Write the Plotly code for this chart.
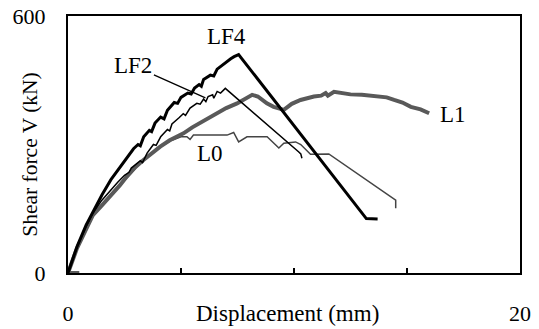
import plotly.graph_objects as go

# ---- data (displacement mm, shear force kN) ----
lf4_d = [0, 0.4, 0.8, 1.1, 1.5, 1.9, 2.3, 2.6, 2.9, 3.1, 3.2, 3.35, 3.6, 3.7, 3.85, 4.1, 4.25, 4.4,
         4.7, 4.85, 5.0, 5.3, 5.45, 5.6, 5.8, 5.9, 6.0, 6.3, 6.45, 6.6, 6.8, 7.0, 7.2, 7.35, 7.55,
         13.2, 13.7]
lf4_v = [0, 62, 112, 143, 182, 218, 248, 270, 290, 300, 297, 318, 333, 330, 350, 364, 360, 380,
         398, 396, 410, 420, 418, 432, 440, 436, 452, 462, 460, 476, 484, 494, 500, 505, 510,
         127, 126]

lf2_d = [0, 0.4, 0.8, 1.1, 1.5, 1.9, 2.2, 2.5, 2.7, 2.8, 3.05, 3.2, 3.3, 3.5, 3.78, 3.9, 4.1, 4.4,
         4.5, 4.6, 4.9, 5.1, 5.2, 5.4, 5.7, 5.85, 6.0, 6.1, 6.2, 6.4, 6.45, 6.6, 6.75, 6.96,
         10.2, 10.3, 10.35]
lf2_v = [0, 60, 108, 140, 170, 195, 212, 228, 235, 245, 256, 262, 258, 280, 300, 298, 318, 335,
         332, 348, 362, 372, 368, 385, 396, 394, 406, 400, 412, 416, 408, 424, 420, 431,
         283, 278, 268]

l1_d = [0.5, 0, 0.4, 0.8, 1.1, 1.5, 1.9, 2.3, 2.6, 3.0, 3.34, 3.7, 4.08, 4.5, 5.11, 5.5, 5.85, 6.2,
        6.59, 7.0, 7.48, 7.8, 8.15, 8.4, 8.8, 9.1, 9.55, 9.9, 10.29, 10.88, 11.2, 11.4, 11.5, 11.77,
        12.5, 13.0, 13.69, 14.1, 14.43, 14.8, 15.17, 15.6, 15.98]
l1_v = [0, 0, 58, 105, 135, 158, 180, 205, 225, 248, 264, 280, 295, 310, 326, 340, 350, 362,
        373, 385, 396, 405, 416, 412, 396, 388, 381, 395, 404, 412, 414, 420, 414, 423,
        417, 416, 412, 410, 404, 398, 388, 382, 373]

l0_d = [0, 0.4, 0.8, 1.1, 1.5, 1.9, 2.3, 2.6, 3.0, 3.4, 3.8, 4.2, 4.6, 5.0, 5.26, 5.4, 5.55, 5.7,
        6.5, 7.04, 7.33, 7.55, 7.92, 8.81, 9.33, 9.55, 10.07, 10.3, 10.73, 11.54, 14.5, 14.5]
l0_v = [0, 58, 103, 132, 157, 180, 203, 222, 245, 265, 283, 298, 310, 318, 318, 312, 322, 322,
        322, 322, 328, 306, 318, 318, 292, 303, 306, 300, 277, 278, 170, 151]

x_ticks = [0, 5, 10, 15, 20]
x_ticktext = ["0", "", "", "", "20"]
y_ticks = [0, 600]
y_ticktext = ["0", "600"]

FONT = "Times New Roman, Liberation Serif, serif"
FS = 22
LFS = 23

fig = go.Figure()
fig.add_trace(go.Scatter(x=l0_d, y=l0_v, mode="lines", name="L0",
                         line=dict(color="#444444", width=1.5)))
fig.add_trace(go.Scatter(x=l1_d, y=l1_v, mode="lines", name="L1",
                         line=dict(color="#595959", width=4)))
fig.add_trace(go.Scatter(x=lf2_d, y=lf2_v, mode="lines", name="LF2",
                         line=dict(color="#000000", width=1.5)))
fig.add_trace(go.Scatter(x=lf4_d, y=lf4_v, mode="lines", name="LF4",
                         line=dict(color="#000000", width=3)))

fig.update_layout(
    width=539, height=329,
    margin=dict(l=68, r=19, t=16, b=56, autoexpand=False),
    paper_bgcolor="white", plot_bgcolor="white",
    showlegend=False,
    font=dict(family=FONT, size=FS, color="black"),
    xaxis=dict(range=[0, 20], tickvals=x_ticks, ticktext=x_ticktext,
               tickfont=dict(family=FONT, size=FS, color="black"),
               ticks="inside", ticklen=5, tickwidth=1.5, tickcolor="black",
               showline=True, linecolor="black", linewidth=2, mirror=True,
               showgrid=False, zeroline=False, ticklabelstandoff=20, automargin=False),
    yaxis=dict(range=[0, 600], tickvals=y_ticks, ticktext=y_ticktext,
               tickfont=dict(family=FONT, size=FS, color="black"),
               ticks="", showline=True, linecolor="black", linewidth=2, mirror=True,
               showgrid=False, zeroline=False, ticklabelstandoff=16, automargin=False),
    annotations=[
        dict(text="Displacement (mm)", xref="paper", yref="paper", x=0.486, y=-0.156,
             xanchor="center", yanchor="middle", showarrow=False, font=dict(size=23)),
        dict(text="Shear force V (kN)", xref="paper", yref="paper", x=-0.084, y=0.46,
             xanchor="center", yanchor="middle", showarrow=False, textangle=-90,
             font=dict(size=21.5)),
        dict(text="LF4", x=7.0, y=553, xref="x", yref="y", showarrow=False, font=dict(size=LFS)),
        dict(text="L0", x=6.3, y=280, xref="x", yref="y", showarrow=False, font=dict(size=LFS)),
        dict(text="L1", x=17.03, y=371, xref="x", yref="y", showarrow=False, font=dict(size=LFS)),
        dict(text="LF2", x=6.08, y=409, xref="x", yref="y", ax=-72, ay=-32,
             showarrow=True, arrowhead=0, arrowwidth=1.3, arrowcolor="black",
             standoff=0, font=dict(size=LFS)),
    ],
)

fig.write_html("out.html")
